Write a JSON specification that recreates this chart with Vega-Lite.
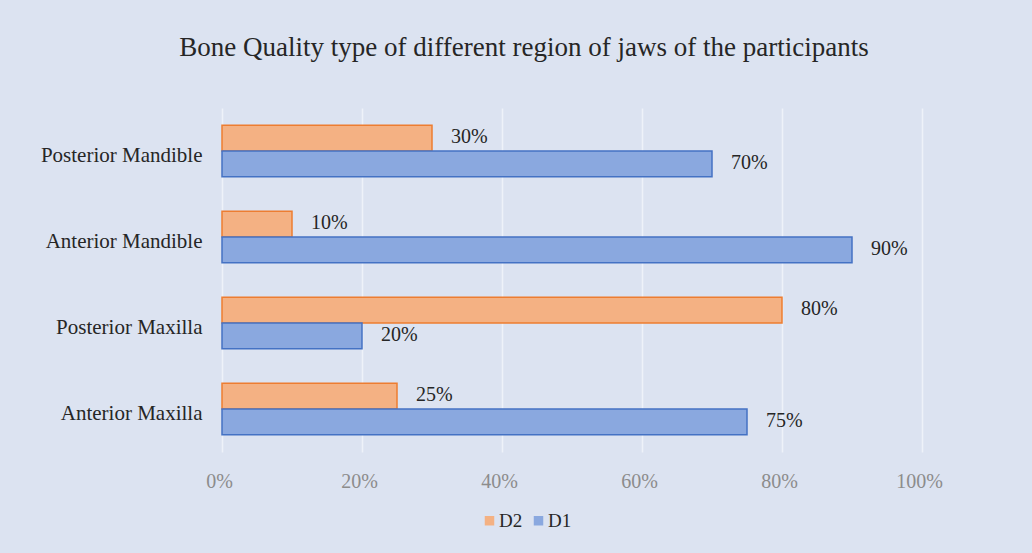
{
  "$schema": "https://vega.github.io/schema/vega-lite/v6.json",
  "autosize": "none",
  "width": 700,
  "height": 344,
  "padding": {"left": 222, "top": 108, "right": 110, "bottom": 101},
  "background": "#dce3f1",
  "config": {"view": {"stroke": null}, "font": "Liberation Serif"},
  "title": {
    "text": "Bone Quality type of different region of jaws of  the participants",
    "font": "Liberation Serif",
    "fontSize": 27,
    "fontWeight": "normal",
    "color": "#262626",
    "frame": "group",
    "anchor": "middle",
    "offset": 46,
    "dx": -48
  },
  "data": {
    "values": [
      {"region": "Posterior Mandible", "series": "D2", "value": 0.30},
      {"region": "Posterior Mandible", "series": "D1", "value": 0.70},
      {"region": "Anterior Mandible", "series": "D2", "value": 0.10},
      {"region": "Anterior Mandible", "series": "D1", "value": 0.90},
      {"region": "Posterior Maxilla", "series": "D2", "value": 0.80},
      {"region": "Posterior Maxilla", "series": "D1", "value": 0.20},
      {"region": "Anterior Maxilla", "series": "D2", "value": 0.25},
      {"region": "Anterior Maxilla", "series": "D1", "value": 0.75}
    ]
  },
  "encoding": {
    "y": {
      "field": "region",
      "type": "nominal",
      "sort": ["Posterior Mandible", "Anterior Mandible", "Posterior Maxilla", "Anterior Maxilla"],
      "scale": {"paddingInner": 0.4, "paddingOuter": 0.2},
      "axis": {
        "title": null,
        "domain": false,
        "ticks": false,
        "labelFont": "Liberation Serif",
        "labelFontSize": 21,
        "labelColor": "#262626",
        "labelPadding": 20,
        "labelOffset": 5
      }
    },
    "yOffset": {"field": "series", "type": "nominal", "sort": ["D2", "D1"]},
    "x": {
      "field": "value",
      "type": "quantitative",
      "scale": {"domain": [0, 1]},
      "axis": {
        "title": null,
        "format": "%",
        "values": [0, 0.2, 0.4, 0.6, 0.8, 1],
        "labelFlush": false,
        "domain": false,
        "ticks": false,
        "grid": true,
        "gridColor": "#eef2f9",
        "gridWidth": 1.5,
        "labelFont": "Liberation Serif",
        "labelFontSize": 20,
        "labelColor": "#8c8c8c",
        "labelPadding": 19,
        "labelOffset": -3
      }
    }
  },
  "layer": [
    {
      "mark": {"type": "bar", "strokeWidth": 1.5},
      "encoding": {
        "color": {
          "field": "series",
          "type": "nominal",
          "scale": {"domain": ["D2", "D1"], "range": ["#f4b183", "#8aa8df"]},
          "legend": {
            "title": null,
            "orient": "none",
            "legendX": 258,
            "legendY": 403,
            "direction": "horizontal",
            "symbolType": "square",
            "symbolSize": 90,
            "symbolStrokeWidth": 0,
            "labelFont": "Liberation Serif",
            "labelFontSize": 19,
            "labelColor": "#262626",
            "columnPadding": 6,
            "labelOffset": 0
          }
        },
        "stroke": {
          "field": "series",
          "type": "nominal",
          "scale": {"domain": ["D2", "D1"], "range": ["#ed7d31", "#4472c4"]},
          "legend": null
        }
      }
    },
    {
      "mark": {"type": "text", "align": "left", "dx": 19, "dy": -1, "font": "Liberation Serif", "fontSize": 20, "color": "#262626"},
      "encoding": {
        "text": {"field": "value", "type": "quantitative", "format": ".0%"}
      }
    }
  ]
}
